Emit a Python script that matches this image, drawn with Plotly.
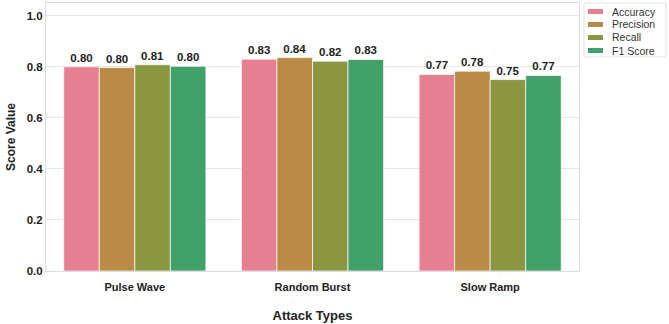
import plotly.graph_objects as go

categories = ["Pulse Wave", "Random Burst", "Slow Ramp"]
metrics = ["Accuracy", "Precision", "Recall", "F1 Score"]
accuracy = [0.800, 0.830, 0.770]
precision = [0.797, 0.836, 0.783]
recall = [0.808, 0.822, 0.750]
f1_score = [0.802, 0.829, 0.766]
series = [accuracy, precision, recall, f1_score]
colors = ["#E67F91", "#B98B46", "#8B9641", "#42A06A"]
y_ticks = [0.0, 0.2, 0.4, 0.6, 0.8, 1.0]

FONT = "Liberation Sans, Arial, sans-serif"

W, H = 669, 324
ML, MR, MT, MB = 46, 90, 3, 53
PW = W - ML - MR
PH = H - MT - MB

def px_x(px):
    return (px - ML) / PW

def px_y(py):
    return (H - MB - py) / PH

fig = go.Figure()
for name, vals, col in zip(metrics, series, colors):
    fig.add_trace(go.Bar(
        x=categories, y=vals, name=name,
        marker=dict(color=col, line=dict(color="rgba(255,255,255,0.7)", width=1)),
        texttemplate="%{y:.2f}", textposition="outside", cliponaxis=False,
        textfont=dict(family=FONT, size=11.5, color="#222", weight="bold"),
        showlegend=False,
    ))

# manual legend (compact, as in reference)
shapes = [dict(type="rect", xref="paper", yref="paper",
               x0=px_x(584), x1=px_x(666), y0=px_y(57), y1=px_y(3),
               line=dict(color="#e2e2e2", width=1), fillcolor="white", layer="above")]
annotations = []
for i, (name, col) in enumerate(zip(metrics, colors)):
    cy = 11.5 + i * 13
    shapes.append(dict(type="rect", xref="paper", yref="paper",
                       x0=px_x(588), x1=px_x(603), y0=px_y(cy + 2.5), y1=px_y(cy - 2.5),
                       line=dict(width=0), fillcolor=col, layer="above"))
    annotations.append(dict(xref="paper", yref="paper", x=px_x(611), y=px_y(cy),
                            text=name, showarrow=False, xanchor="left", yanchor="middle",
                            borderpad=0,
                            font=dict(family=FONT, size=10.5, color="#333")))

fig.update_layout(
    width=W, height=H,
    margin=dict(l=ML, r=MR, t=MT, b=MB),
    paper_bgcolor="white", plot_bgcolor="white",
    barmode="group", bargap=0.2, bargroupgap=0,
    font=dict(family=FONT, color="#222"),
    showlegend=False,
    shapes=shapes, annotations=annotations,
    xaxis=dict(
        showgrid=False, showline=True, linecolor="#dcdcdc", linewidth=1, mirror=True,
        tickfont=dict(family=FONT, size=11, weight="bold", color="#222"),
        ticklabelstandoff=6,
        title=dict(text="Attack Types", font=dict(family=FONT, size=13, weight="bold", color="#222"), standoff=18),
        ticks="",
    ),
    yaxis=dict(
        range=[0, 1.05], tickvals=y_ticks, tickformat=".1f",
        showgrid=True, gridcolor="#e6e6e6", gridwidth=1,
        showline=True, linecolor="#dcdcdc", linewidth=1, mirror=True,
        zeroline=False,
        tickfont=dict(family=FONT, size=11.5, weight="bold", color="#222"),
        title=dict(text="Score Value", font=dict(family=FONT, size=12, weight="bold", color="#222"), standoff=8),
        ticks="",
    ),
)

fig.write_html("out.html")
